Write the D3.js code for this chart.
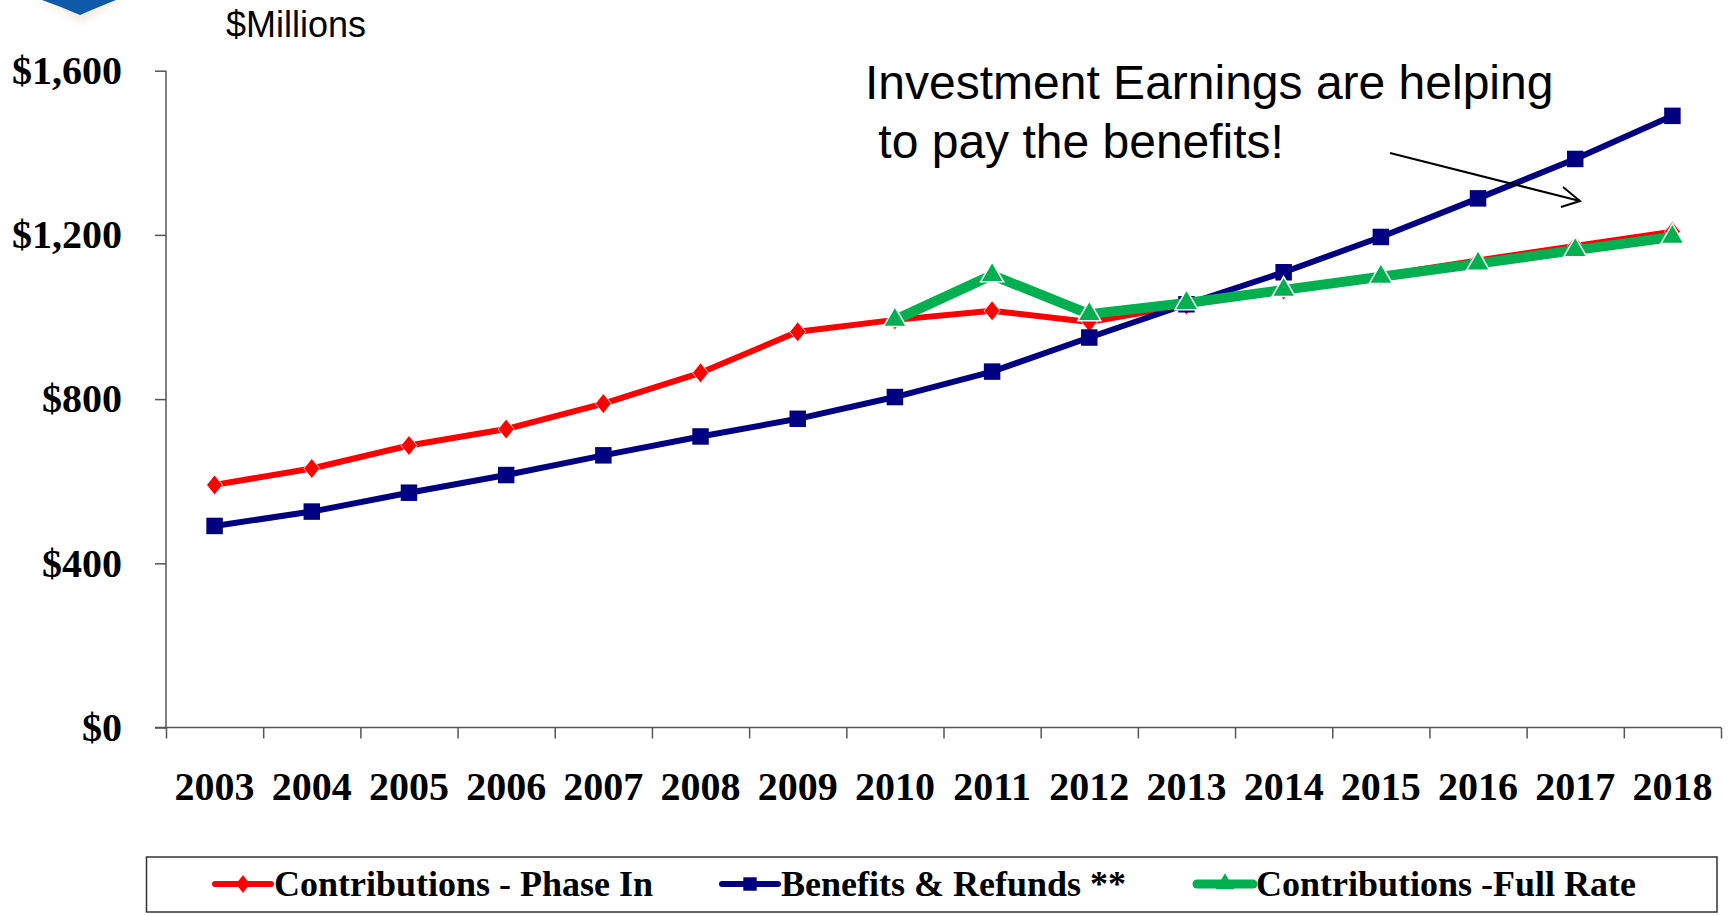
<!DOCTYPE html>
<html>
<head>
<meta charset="utf-8">
<script src="https://cdn.jsdelivr.net/npm/d3@7"></script>
<style>
  body { margin: 0; background: #fff; }
  svg { display: block; }
</style>
</head>
<body>
<div id="chart"></div>
<script>
// chart values
const years = [2003, 2004, 2005, 2006, 2007, 2008, 2009, 2010, 2011, 2012, 2013, 2014, 2015, 2016, 2017, 2018];
const phaseIn = [591, 631, 687, 727, 789, 864, 964, 993, 1015, 988, 1029, 1066, 1101, 1138, 1173, 1208];
const benefits = [491, 526, 572, 615, 663, 709, 752, 805, 867, 950, 1031, 1109, 1195, 1289, 1385, 1490];
const fullRate = [null, null, null, null, null, null, null, 993, 1102, 1007, 1034, 1066, 1098, 1130, 1163, 1195];
const yTicks = [0, 400, 800, 1200, 1600];
const seriesNames = ['Contributions - Phase In', 'Benefits & Refunds **', 'Contributions -Full Rate'];
const noteLines = ['Investment Earnings are helping', ' to pay the benefits!'];

const config = {
  width: 1729,
  height: 916,
  left: 166, right: 1721,
  top: 70.7, bottom: 727.5
};

const svg = d3.select('#chart').append('svg')
  .attr('width', config.width)
  .attr('height', config.height);

// logo fragment at the top left
const defs = svg.append('defs');
defs.append('filter').attr('id', 'soft')
  .attr('x', '-50%').attr('y', '-50%').attr('width', '200%').attr('height', '200%')
  .append('feGaussianBlur').attr('stdDeviation', 4);
svg.append('path')
  .attr('d', 'M36,0 L124,0 Q100,8 82,22 Q60,8 36,0 Z')
  .attr('fill', '#e8d9c8').attr('opacity', 0.6).attr('filter', 'url(#soft)');
svg.append('path')
  .attr('d', 'M42,0 L116,0 Q96,8 80,15 Q62,7 42,0 Z')
  .attr('fill', '#0f5aa8');

const x = d3.scaleBand().domain(years).range([config.left, config.right]);
const xEdges = d3.scaleLinear().domain([0, years.length]).range([config.left, config.right]);
const y = d3.scaleLinear().domain([0, 1600]).range([config.bottom, config.top]);

const axisColor = '#555';
const serif = '"Liberation Serif", "Times New Roman", serif';
const sans = '"Liberation Sans", Arial, sans-serif';

// y axis
const yAxisG = svg.append('g')
  .attr('transform', `translate(${config.left},0)`)
  .call(d3.axisLeft(y).tickValues(yTicks).tickSize(11).tickPadding(33)
    .tickFormat(d3.format('$,')));
yAxisG.select('.domain').attr('stroke', axisColor).attr('stroke-width', 1.5).attr('d', `M0,${config.top}V${config.bottom}`);
yAxisG.selectAll('.tick line').attr('stroke', axisColor).attr('stroke-width', 1.5);
yAxisG.selectAll('.tick text')
  .attr('font-family', serif).attr('font-weight', 'bold').attr('font-size', 40).attr('fill', '#000');

// x axis: ticks on band edges, labels on band centres
const xTicksG = svg.append('g')
  .attr('transform', `translate(0,${config.bottom})`)
  .call(d3.axisBottom(xEdges).tickValues(d3.range(years.length + 1)).tickSize(11).tickFormat(''));
xTicksG.select('.domain').attr('stroke', axisColor).attr('stroke-width', 1.5)
  .attr('d', `M${config.left - 11},0H${config.right}`);
xTicksG.selectAll('.tick line').attr('stroke', axisColor).attr('stroke-width', 1.5);

const xLabelG = svg.append('g')
  .attr('transform', `translate(0,${config.bottom})`)
  .call(d3.axisBottom(x).tickSize(0).tickPadding(44));
xLabelG.select('.domain').remove();
xLabelG.selectAll('.tick text')
  .attr('font-family', serif).attr('font-weight', 'bold').attr('font-size', 40).attr('fill', '#000');

// units label
svg.append('text')
  .attr('x', 226).attr('y', 37)
  .attr('font-family', sans).attr('font-size', 36)
  .text('$Millions');

// series
const cx = (d) => x(d.year) + x.bandwidth() / 2;
const toPoints = (vals) => years.map((yr, i) => ({year: yr, value: vals[i]})).filter(d => d.value !== null);

const diamond = (w, h) => `M0,${-h}L${w},0L0,${h}L${-w},0Z`;
const series = [
  {name: seriesNames[0], values: phaseIn, color: '#ff0000', width: 6,
   marker: diamond(8, 10), stroke: '#fff', strokeW: 0.8, legendMarker: diamond(7, 9)},
  {name: seriesNames[1], values: benefits, color: '#000080', width: 6,
   marker: d3.symbol(d3.symbolSquare, 272)(), stroke: '#000080', strokeW: 0, legendMarker: d3.symbol(d3.symbolSquare, 180)()},
  {name: seriesNames[2], values: fullRate, color: '#00b050', width: 10,
   marker: d3.symbol(d3.symbolTriangle, 230)(), stroke: '#fff', strokeW: 1.5, legendMarker: d3.symbol(d3.symbolTriangle, 150)()}
];

const line = d3.line().x(cx).y(d => y(d.value));

series.forEach(s => {
  const pts = toPoints(s.values);
  const g = svg.append('g');
  g.append('path')
    .datum(pts)
    .attr('d', line)
    .attr('fill', 'none')
    .attr('stroke', s.color)
    .attr('stroke-width', s.width)
    .attr('stroke-linejoin', 'round');
  g.selectAll('path.mark')
    .data(pts)
    .join('path')
    .attr('class', 'mark')
    .attr('d', s.marker)
    .attr('transform', d => `translate(${cx(d)},${y(d.value)})`)
    .attr('fill', s.color)
    .attr('stroke', s.stroke)
    .attr('stroke-width', s.strokeW);
});

// annotation
const note = svg.append('text')
  .attr('font-family', sans).attr('font-size', 48).attr('fill', '#000')
  .attr('xml:space', 'preserve');
note.selectAll('tspan')
  .data(noteLines)
  .join('tspan')
  .attr('x', 865)
  .attr('y', (d, i) => 99 + i * 59)
  .text(d => d);

svg.append('line')
  .attr('x1', 1390).attr('y1', 153).attr('x2', 1580).attr('y2', 201)
  .attr('stroke', '#000').attr('stroke-width', 2);
svg.append('path')
  .attr('d', 'M1563,187 L1580,201 L1561,207')
  .attr('fill', 'none').attr('stroke', '#000').attr('stroke-width', 2);

// legend
svg.append('rect')
  .attr('x', 146.5).attr('y', 857).attr('width', 1570.5).attr('height', 55)
  .attr('fill', '#fff').attr('stroke', '#333').attr('stroke-width', 1.5);

const legendX = [215, 722, 1197];
const legend = svg.selectAll('g.legend')
  .data(series)
  .join('g')
  .attr('class', 'legend')
  .attr('transform', (d, i) => `translate(${legendX[i]},884)`);
legend.append('line')
  .attr('x1', 0).attr('x2', 56)
  .attr('stroke', d => d.color)
  .attr('stroke-width', d => d.width === 10 ? 9 : 6)
  .attr('stroke-linecap', 'round');
legend.append('path')
  .attr('d', d => d.legendMarker)
  .attr('transform', 'translate(28,0)')
  .attr('fill', d => d.color);
legend.append('text')
  .attr('x', 59).attr('y', 12)
  .attr('font-family', serif).attr('font-weight', 'bold').attr('font-size', 36)
  .text(d => d.name);
</script>
</body>
</html>
